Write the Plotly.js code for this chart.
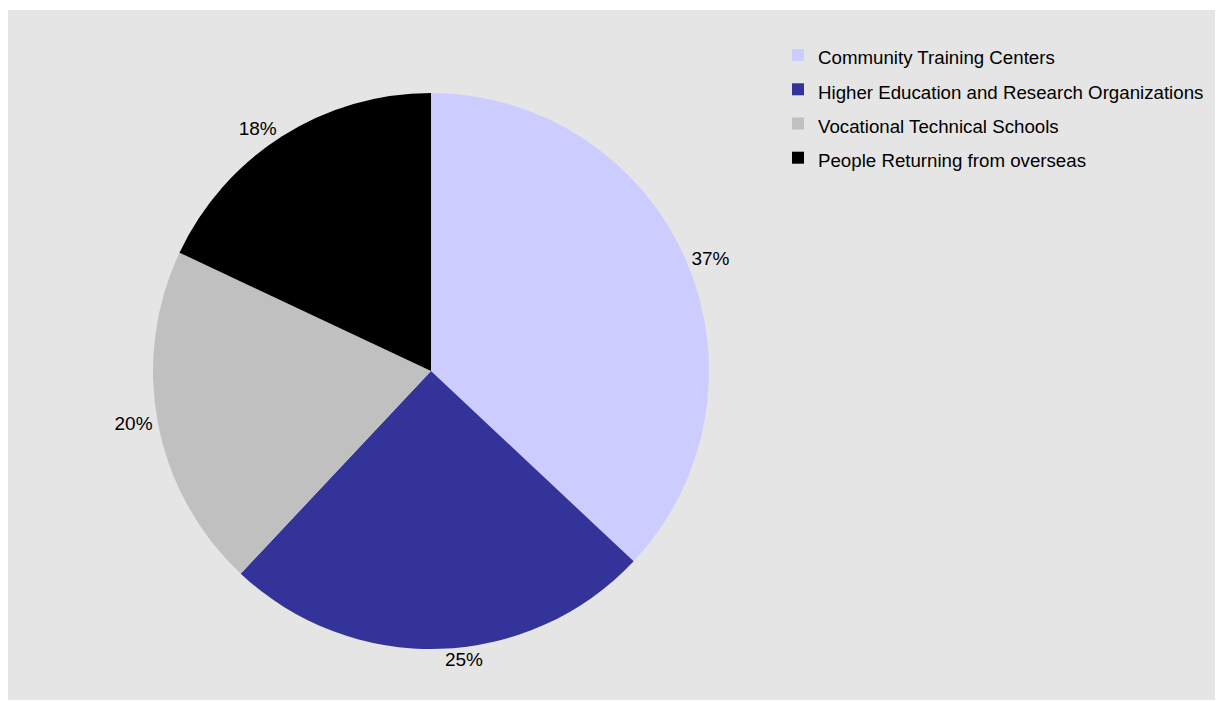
<!DOCTYPE html>
<html>
<head>
<meta charset="utf-8">
<script src="https://cdn.plot.ly/plotly-3.0.1.min.js"></script>
<style>
  html, body { margin: 0; padding: 0; background: #ffffff; }
  #chart { position: absolute; left: 8px; top: 10px; width: 1207px; height: 690px; }
</style>
</head>
<body>
<div id="chart"></div>
<script>
const categories = [
  "Community Training Centers",
  "Higher Education and Research Organizations",
  "Vocational Technical Schools",
  "People Returning from overseas"
];
const shares = [37, 25, 20, 18];
const sliceColors = ["#ccccff", "#333399", "#c0c0c0", "#000000"];

const W = 1207, H = 690;
const cx = 423, cy = 361, r = 278;

const trace = {
  type: "pie",
  labels: categories.map(c => '<span style="font-size:18.7px">' + c + '</span>'),
  values: shares,
  sort: false,
  direction: "clockwise",
  rotation: 0,
  marker: { colors: sliceColors, line: { width: 0 } },
  textinfo: "percent",
  texttemplate: "%{percent:.0%}",
  textposition: "outside",
  outsidetextfont: { size: 19, color: "#000000", family: "Liberation Sans, Arial, sans-serif" },
  hoverinfo: "label+percent",
  domain: {
    x: [(cx - r) / W, (cx + r) / W],
    y: [(H - cy - r) / H, (H - cy + r) / H]
  }
};

const layout = {
  width: W,
  height: H,
  margin: { l: 0, r: 0, t: 0, b: 0 },
  paper_bgcolor: "#e5e5e5",
  plot_bgcolor: "#e5e5e5",
  font: { family: "Liberation Sans, Arial, sans-serif", color: "#000000", size: 17 },
  showlegend: true,
  legend: {
    x: 770 / W,
    xanchor: "left",
    y: 1 - 23 / H,
    yanchor: "top",
    bgcolor: "rgba(0,0,0,0)",
    font: { size: 24, color: "#000000" },
    itemclick: false
  }
};

Plotly.newPlot("chart", [trace], layout, { displayModeBar: false, staticPlot: true });
</script>
</body>
</html>
